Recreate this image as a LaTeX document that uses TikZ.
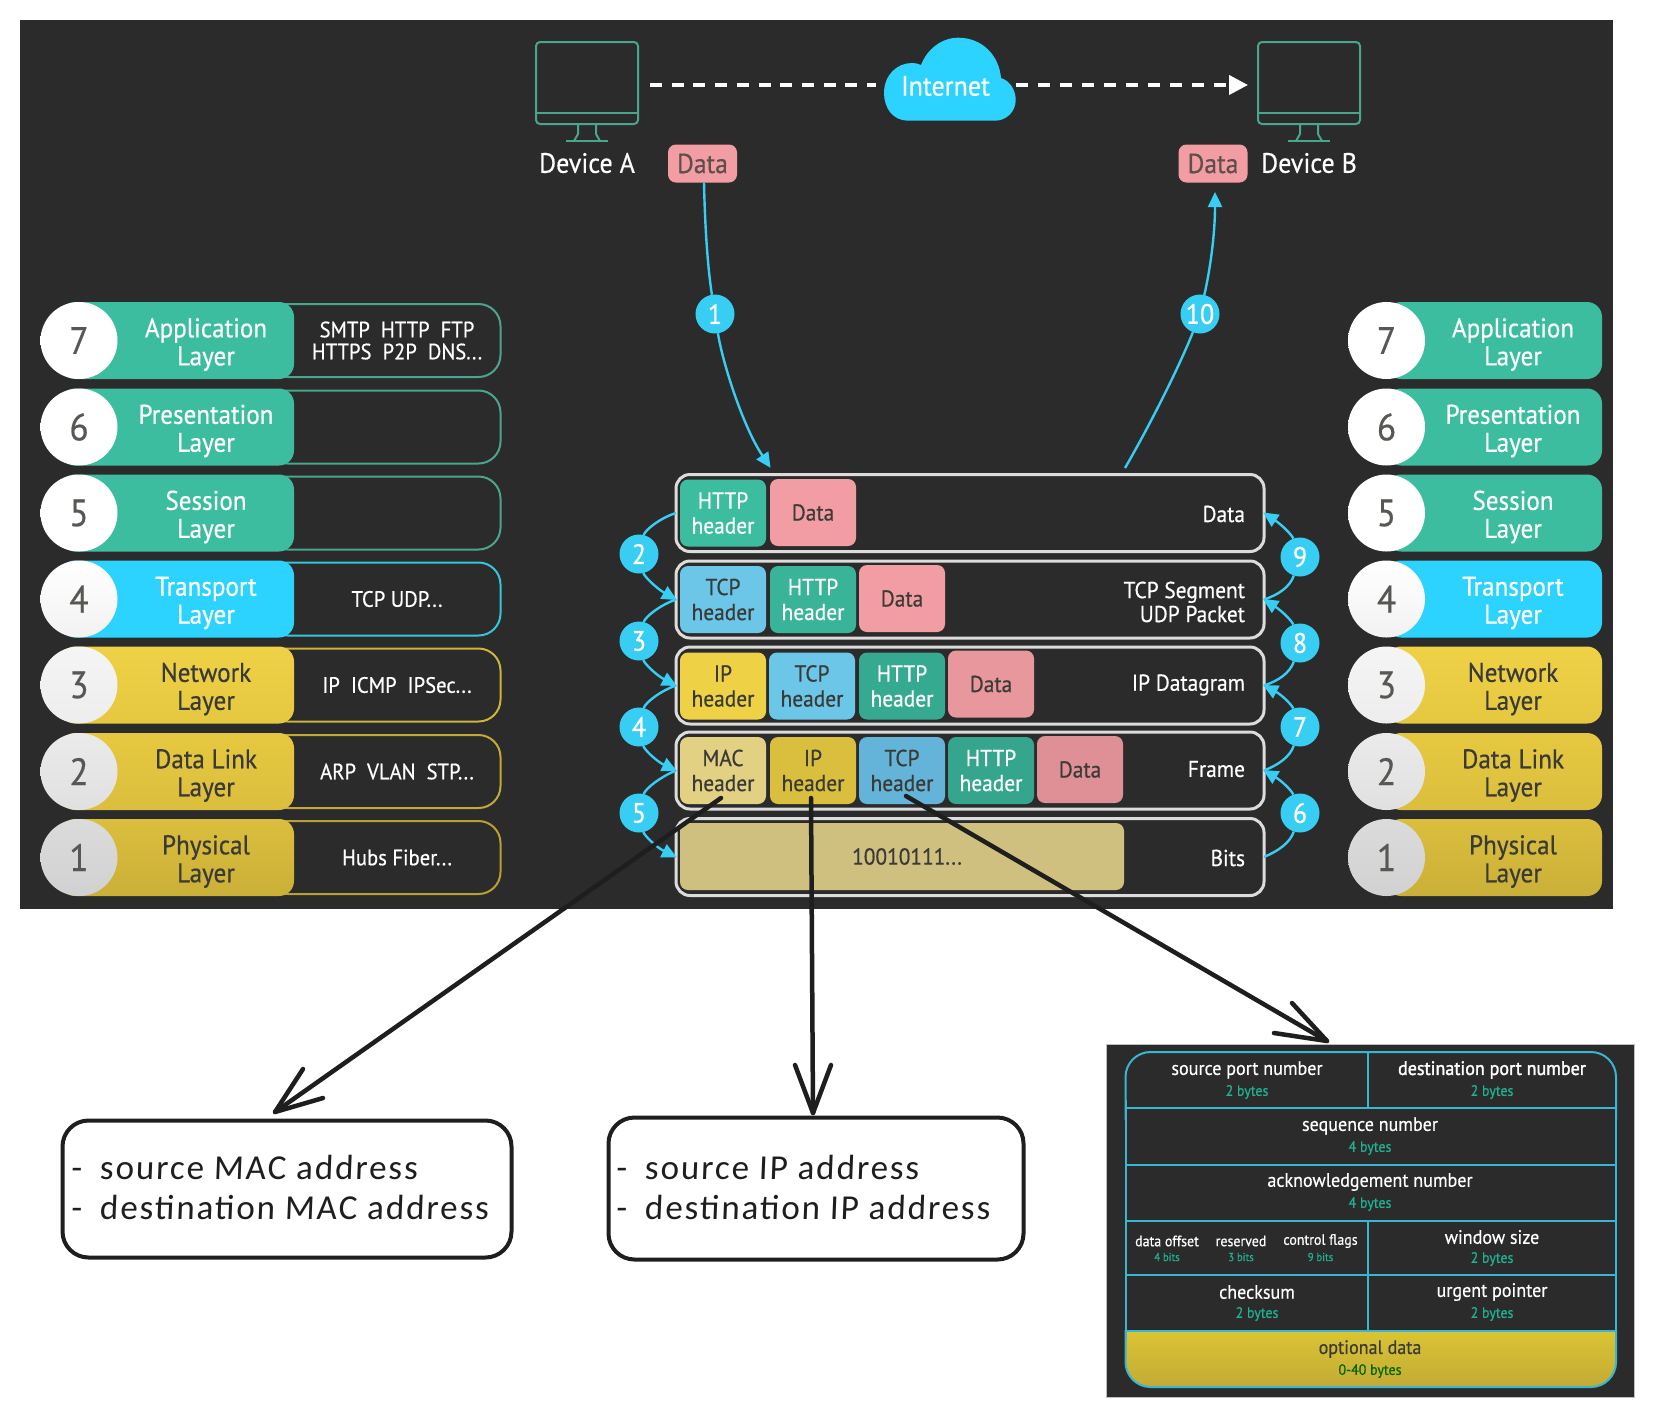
\documentclass[tikz,border=0pt]{standalone}
\usepackage{fontspec}
\usetikzlibrary{arrows.meta,calc}
\setmainfont{PT Sans}
\newfontfamily\din[FakeStretch=0.93,FakeBold=0.5]{PT Sans}
\newfontfamily\dinb[FakeStretch=0.93,FakeBold=1.6]{PT Sans}
\newfontfamily\sketch[LetterSpace=5.5,FakeSlant=0.04]{Carlito}
\newcommand\fsz[2]{\fontsize{#1}{#2}\selectfont}
\definecolor{bgd}{HTML}{2B2B2B}
\definecolor{grn}{HTML}{3CBDA0}
\definecolor{grnl}{HTML}{4AA58E}
\definecolor{blu}{HTML}{2DD3FF}
\definecolor{cyn}{HTML}{38CDF2}
\definecolor{ylw}{HTML}{EFD146}
\definecolor{ylwb}{HTML}{E6C840}
\definecolor{pnk}{HTML}{F29DA3}
\definecolor{dkt}{HTML}{3A3A36}
\definecolor{frm}{HTML}{DCDCDC}
\definecolor{ink}{HTML}{1E1E1E}
\definecolor{tbl}{HTML}{38B6D2}
\definecolor{byt}{HTML}{1FB394}
\definecolor{tcpa}{HTML}{6CC6E8}
\definecolor{tcpb}{HTML}{63B4D8}
\definecolor{macc}{HTML}{E2D083}
\definecolor{bitc}{HTML}{CFC080}
\tikzset{
 x=1pt,y=-1pt,
 every node/.style={inner sep=0pt,outer sep=0pt},
 pill/.style={rectangle,rounded corners=15pt,minimum width=#1,minimum height=77pt},
 outl/.style={rectangle,rounded corners=22pt,minimum width=235pt,minimum height=73pt,line width=2pt,draw},
 lnum/.style={circle,minimum size=77pt,font=\din\fsz{38}{40},text=dkt!85!white},
 ltxt/.style={align=center,font=\din\fsz{27}{28}},
 ptxt/.style={align=center,font=\din\fsz{22.2}{22},text=white,anchor=center},
 frame box/.style={rectangle,rounded corners=14pt,minimum width=588pt,minimum height=77pt,line width=3pt,draw=frm},
 cell/.style={rectangle,rounded corners=8pt,minimum width=86pt,minimum height=67pt,align=center,font=\din\fsz{23}{25}},
 flab/.style={anchor=east,align=right,font=\din\fsz{23}{24},text=white},
 num/.style={circle,fill=cyn,minimum size=39pt,text=white,font=\din\fsz{28}{28}},
 conn/.style={line width=2.4pt,cyn},
 tipped/.style={conn,-{Triangle[length=15pt,width=14pt]},shorten >=-1pt},
 monitor/.style={grnl,line width=2pt,rounded corners=4pt},
 datab/.style={rectangle,rounded corners=8pt,minimum width=69pt,minimum height=38pt,fill=pnk,text=dkt!80!pnk,font=\din\fsz{27.5}{28}},
 devl/.style={font=\din\fsz{28}{28},text=white},
 sk/.style={ink,line width=4.5pt,line cap=round,line join=round},
 skbox/.style={rectangle,rounded corners=26pt,draw=ink,line width=4pt,fill=white},
 sktxt/.style={anchor=west,align=left,font=\sketch\fsz{35}{40},text=ink},
 tmain/.style={align=center,font=\din\fsz{19.4}{20},text=white},
 tsub/.style={font=\din\fsz{15}{16},text=byt},
 tsmain/.style={font=\din\fsz{15}{15},text=white},
 tssub/.style={font=\din\fsz{11.5}{12},text=byt},
}
\begin{document}
\begin{tikzpicture}
\useasboundingbox (0,0) rectangle (1653,1417);
\fill[white] (0,0) rectangle (1653,1417);
\fill[bgd] (20,20) rectangle (1613,909);

% monitors
\foreach \c/\s in {587/A,1309/B}{
 \draw[monitor] (\c-51,42) rectangle (\c+51,124);
 \draw[grnl,line width=2pt] (\c-51,113) -- (\c+51,113);
 \draw[grnl,line width=2pt,line join=round] (\c-9,124) -- (\c-9,134) -- (\c-13,141) (\c+9,124) -- (\c+9,134) -- (\c+13,141);
 \draw[grnl,line width=2pt] (\c-21,141) -- (\c+21,141);
}
\node[devl] (devA) at (587,163) {Device A};
\node[devl] (devB) at (1309,163) {Device B};
\node[datab] (dA) at (702.5,163.5) {Data};
\node[datab] (dB) at (1213,163.5) {Data};

% cloud
\fill[blu,name=cloud] (908,120.7) .. controls (893,120.7) and (884,108) .. (884,93)
 .. controls (884,75) and (897,63) .. (912,63) .. controls (915,63) and (918,63.5) .. (921,65)
 .. controls (927,49) and (942,37.7) .. (958,37.7) .. controls (982,37.7) and (999,55) .. (1001,78)
 .. controls (1010,81) and (1015.7,90) .. (1015.7,100) .. controls (1015.7,112) and (1006,120.7) .. (995,120.7) -- cycle;
\node[text=white,font=\din\fsz{28}{30}] (inet) at (945.5,86) {Internet};
\coordinate (daR) at (650,85);
\coordinate (clL) at (876,85);
\coordinate (clR) at (1016,85);
\coordinate (dbL) at (1248,85);
\draw[white,line width=4pt,dash pattern=on 12pt off 9.7pt] (daR) -- (clL);
\draw[white,line width=4pt,dash pattern=on 11.5pt off 10.5pt,-{Triangle[length=19pt,width=19pt]}] (clR) -- (dbL);

% left stack
\foreach \n/\y/\pc/\pd/\tc/\oc/\cc/\cd/\la/\pr in {
 7/340.5/grn/grn/white/grnl/white/white/Application/{SMTP\ \ HTTP\ \ FTP\\HTTPS\ \ P2P\ \ DNS...},
 6/427/grn/grn/white/grnl/white/white/Presentation/{},
 5/513/grn/grn/white/grnl/white/white/Session/{},
 4/599/blu/blu/white/blu!70!grnl/white/white!95!black/Transport/{TCP UDP...},
 3/685/ylw/ylwb/dkt/ylwb!90!black/white!96!black/white!93!black/Network/{IP\ \ ICMP\ \ IPSec...},
 2/771.5/ylwb/ylwb!95!black/dkt/ylwb!85!black/white!92!black/white!88!black/Data Link/{ARP\ \ VLAN\ \ STP...},
 1/857.5/ylwb!95!black/ylwb!88!black/dkt/ylwb!80!black/white!86!black/white!82!black/Physical/{Hubs Fiber...}}{
 \node[outl,draw=\oc] (lb\n) at (383,\y) {};
 \node[pill=234pt,top color=\pc,bottom color=\pd] (lp\n) at (177,\y) {};
 \node[lnum,top color=\cc,bottom color=\cd] (lc\n) at (79,\y) {\raisebox{-2pt}{\n}};
 \node[ltxt,text=\tc] (lt\n) at (206,\y+4) {\la\\Layer};
 \node[ptxt] (lr\n) at (397,\y) {\pr};
}
% right stack
\foreach \n/\y/\pc/\pd/\tc/\cc/\cd/\la in {
 7/340.5/grn/grn/white/white/white/Application,
 6/427/grn/grn/white/white/white/Presentation,
 5/513/grn/grn/white/white/white/Session,
 4/599/blu/blu/white/white/white!95!black/Transport,
 3/685/ylw/ylwb/dkt/white!96!black/white!93!black/Network,
 2/771.5/ylwb/ylwb!95!black/dkt/white!92!black/white!88!black/Data Link,
 1/857.5/ylwb!95!black/ylwb!88!black/dkt/white!86!black/white!82!black/Physical}{
 \node[pill=216pt,top color=\pc,bottom color=\pd] (rp\n) at (1494,\y) {};
 \node[lnum,top color=\cc,bottom color=\cd] (rc\n) at (1386.5,\y) {\raisebox{-2pt}{\n}};
 \node[ltxt,text=\tc] (rt\n) at (1513,\y+4) {\la\\Layer};
}

% frames
\node[frame box] (f1) at (970,513) {};
\node[frame box] (f2) at (970,599.5) {};
\node[frame box] (f3) at (970,685.5) {};
\node[frame box] (f4) at (970,770.5) {};
\node[frame box] (f5) at (970,857) {};

% cells
\newcommand\cellnode[5]{\node[cell,fill=#3,text=#4] (#1) at #2 {#5};}
\cellnode{c11}{(723,513)}{grn}{white}{HTTP\\header}
\cellnode{c12}{(813,512.5)}{pnk}{dkt}{Data}
\cellnode{c21}{(723,599.5)}{tcpa}{dkt}{TCP\\header}
\cellnode{c22}{(813,599.5)}{grn!95!black}{white}{HTTP\\header}
\cellnode{c23}{(902,598.5)}{pnk}{dkt}{Data}
\cellnode{c31}{(723,686)}{ylw}{dkt}{IP\\header}
\cellnode{c32}{(812,686)}{tcpa}{dkt}{TCP\\header}
\cellnode{c33}{(902,686)}{grn!90!black}{white}{HTTP\\header}
\cellnode{c34}{(991,684)}{pnk!96!black}{dkt}{Data}
\cellnode{c41}{(723,770.5)}{macc}{dkt}{MAC\\header}
\cellnode{c42}{(813,770.5)}{ylwb!95!black}{dkt}{IP\\header}
\cellnode{c43}{(902,770.5)}{tcpb}{dkt}{TCP\\header}
\cellnode{c44}{(991,770.5)}{grn!88!black}{white}{HTTP\\header}
\cellnode{c45}{(1080,769.5)}{pnk!92!black}{dkt}{Data}
\node[cell,minimum width=444pt,fill=bitc,text=dkt] (c51) at (902,856.5) {\hspace{10pt}10010111...};

\node[flab] (l1) at (1245,514) {Data};
\node[flab] (l2) at (1245,602) {TCP Segment\\UDP Packet};
\node[flab] (l3) at (1245,685) {IP Datagram};
\node[flab] (l4) at (1245,769) {Frame};
\node[flab] (l5) at (1245,858) {Bits};

% numbered circles
\node[num] (n1) at (715,314) {1};
\node[num] (n2) at (639,554) {2};
\node[num] (n3) at (639,641) {3};
\node[num] (n4) at (639,727) {4};
\node[num] (n5) at (639,813) {5};
\node[num] (n6) at (1300,813) {6};
\node[num] (n7) at (1300,727) {7};
\node[num] (n8) at (1300,643) {8};
\node[num] (n9) at (1300,557) {9};
\node[num] (n10) at (1200,314) {10};

% connectors
\coordinate (t1) at (770,467);
\coordinate (s10) at (1125,468);
\coordinate (t10) at (1215,193);
\draw[conn] (dA.south) ++(1.5,0) .. controls (705,230) and (708,270) .. (n1);
\draw[tipped] (n1) .. controls (722,360) and (742,425) .. (t1);
\draw[conn] (s10) .. controls (1150,425) and (1180,365) .. (n10);
\draw[tipped] (n10) .. controls (1210,270) and (1215,235) .. (t10);
\foreach \a/\n/\b/\y in {f1/n2/f2/554,f2/n3/f3/641,f3/n4/f4/727,f4/n5/f5/813}{
 \draw[conn] (\a.west) .. controls (660,\y-36) and (645,\y-24) .. (\n);
 \draw[tipped] (\n) .. controls (644,\y+22) and (656,\y+34) .. (\b.west);
}
\foreach \a/\n/\b/\y in {f5/n6/f4/813,f4/n7/f3/727,f3/n8/f2/643,f2/n9/f1/557}{
 \draw[conn] (\a.east) .. controls (1278,\y+38) and (1290,\y+30) .. (\n);
 \draw[tipped] (\n) .. controls (1292,\y-22) and (1282,\y-32) .. (\b.east);
}

% sketch boxes
\node[skbox,minimum width=449pt,minimum height=137pt] (b1) at (287,1189) {};
\node[skbox,minimum width=415pt,minimum height=142pt] (b2) at (816,1188.5) {};
\node[sktxt] (b1a) at (71,1167) {-\hspace{18pt}source MAC address};
\node[sktxt] (b1b) at (71,1207) {-\hspace{18pt}destination MAC address};
\node[sktxt] (b2a) at (616,1167) {-\hspace{18pt}source IP address};
\node[sktxt] (b2b) at (616,1207) {-\hspace{18pt}destination IP address};

% TCP header table
\fill[bgd] (1106,1044) rectangle (1634,1397);
\draw[white!75!black,line width=.6pt] (1106,1044) rectangle (1634,1397);
\shade[top color=ylw!80!yellow!90!black,bottom color=ylwb!85!black]
  (1125.5,1331) -- (1125.5,1362) .. controls (1125.5,1376) and (1136,1387) .. (1150.5,1387)
  -- (1591,1387) .. controls (1605,1387) and (1616,1376) .. (1616,1362) -- (1616,1331) -- cycle;
\draw[tbl,line width=2pt,rounded corners=25pt] (1125.5,1120) -- (1125.5,1052) -- (1616,1052) -- (1616,1120);
\draw[tbl,line width=2pt] (1125.5,1100) -- (1125.5,1340) (1616,1100) -- (1616,1340);
\draw[tbl,line width=2pt,rounded corners=25pt] (1125.5,1330) -- (1125.5,1387) -- (1616,1387) -- (1616,1330);
\foreach \y in {1108,1165,1221,1275,1331}{\draw[tbl,line width=2pt] (1125.5,\y) -- (1616,\y);}
\draw[tbl,line width=2pt] (1367.5,1052) -- (1367.5,1108) (1367.5,1221) -- (1367.5,1331);

\node[tmain] (tA) at (1247,1070) {source port number};
\node[tsub] (tAb) at (1247,1092) {2 bytes};
\node[tmain,font=\dinb\fsz{19.4}{20}] (tB) at (1492,1070) {destination port number};
\node[tsub] (tBb) at (1492,1092) {2 bytes};
\node[tmain] (tC) at (1370,1126) {sequence number};
\node[tsub] (tCb) at (1370,1148) {4 bytes};
\node[tmain] (tD) at (1370,1182) {acknowledgement number};
\node[tsub] (tDb) at (1370,1204) {4 bytes};
\node[tsmain] (tE) at (1167,1241) {data offset};
\node[tssub] (tEb) at (1167,1257) {4 bits};
\node[tsmain] (tF) at (1241,1241) {reserved};
\node[tssub] (tFb) at (1241,1257) {3 bits};
\node[tsmain] (tG) at (1320.5,1241) {control flags};
\node[tssub] (tGb) at (1320.5,1257) {9 bits};
\node[tmain] (tH) at (1492,1237) {window size};
\node[tsub] (tHb) at (1492,1259) {2 bytes};
\node[tmain] (tI) at (1257,1292) {checksum};
\node[tsub] (tIb) at (1257,1314) {2 bytes};
\node[tmain] (tJ) at (1492,1292) {urgent pointer};
\node[tsub] (tJb) at (1492,1314) {2 bytes};
\node[tmain,text=dkt] (tK) at (1370,1349) {optional data};
\node[tsub,text=green!40!black] (tKb) at (1370,1371) {0-40 bytes};

% sketch arrows
\coordinate (a1) at (275,1112);
\coordinate (a1u) at (303,1069);
\coordinate (a1v) at (323,1098);
\coordinate (a2) at (813,1113);
\coordinate (a2u) at (795,1065);
\coordinate (a2v) at (831,1065);
\coordinate (a3) at (1327,1041);
\coordinate (a3u) at (1292,1003);
\coordinate (a3v) at (1274,1033);
\draw[sk] ([xshift=-2pt,yshift=6pt]c41.south) -- (a1);
\draw[sk] (a1u) -- (a1) -- (a1v);
\draw[sk] ([xshift=-2pt,yshift=6pt]c42.south) -- (a2);
\draw[sk] (a2u) -- (a2) -- (a2v);
\draw[sk] ([xshift=4pt,yshift=8pt]c43.south) -- (a3);
\draw[sk] (a3u) -- (a3) -- (a3v);
\end{tikzpicture}
\end{document}
